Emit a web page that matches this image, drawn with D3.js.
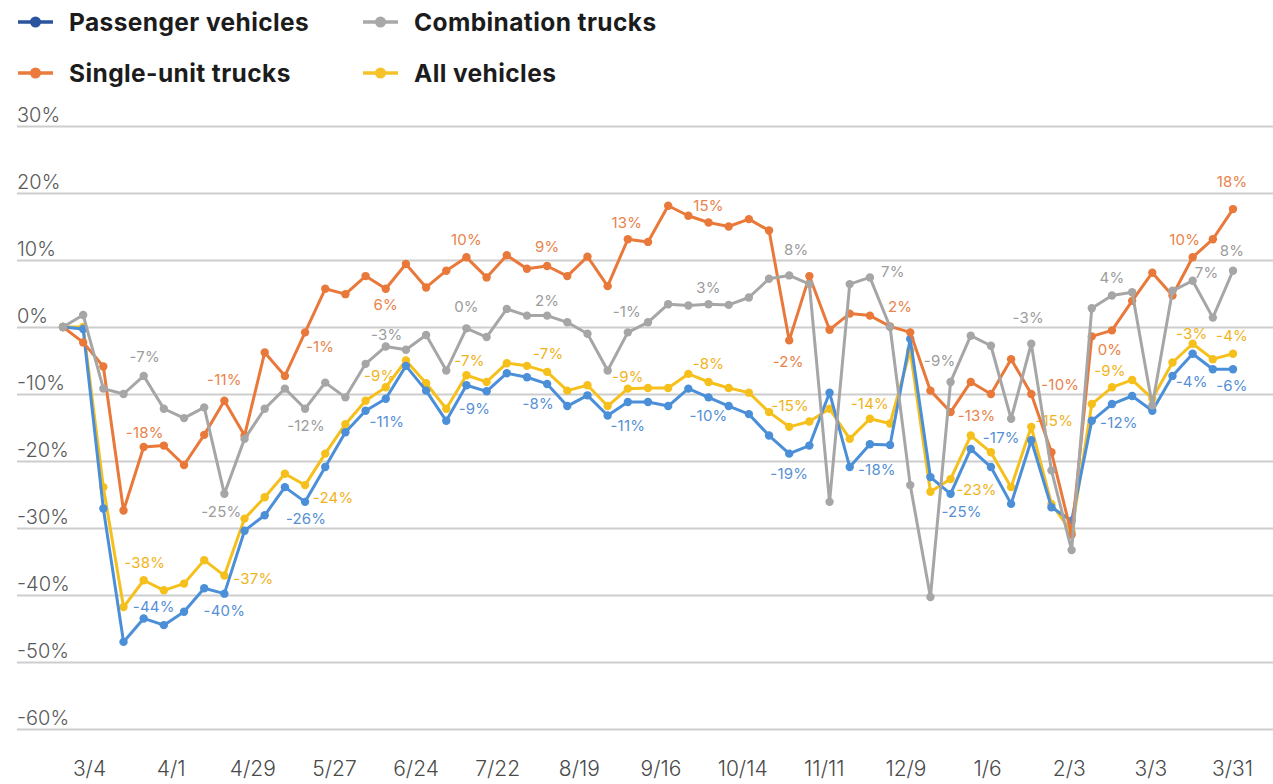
<!DOCTYPE html>
<html>
<head>
<meta charset="utf-8">
<script src="https://cdn.jsdelivr.net/npm/d3@7"></script>
<style>
  body { margin: 0; background: #fff; }
  svg text { font-family: Inter, "DejaVu Sans", sans-serif; }
</style>
</head>
<body>
<svg id="chart" width="1273" height="784"></svg>
<script>
// weekly change in traffic vs. baseline, %
const tickLabels = ["3/4", "4/1", "4/29", "5/27", "6/24", "7/22", "8/19", "9/16",
  "10/14", "11/11", "12/9", "1/6", "2/3", "3/3", "3/31"];
const yTicks = [30, 20, 10, 0, -10, -20, -30, -40, -50, -60];

const passenger = [0, -0.3, -27.1, -47.0, -43.5, -44.5, -42.5, -39.0, -39.8, -30.4,
  -28.1, -23.9, -26.1, -20.9, -15.7, -12.5, -10.7, -5.8, -9.5, -14.0,
  -8.7, -9.6, -6.9, -7.5, -8.5, -11.8, -10.2, -13.2, -11.2, -11.2,
  -11.8, -9.2, -10.5, -11.8, -13.0, -16.2, -18.9, -17.7, -9.8, -20.9,
  -17.5, -17.6, -1.8, -22.4, -24.9, -18.2, -20.9, -26.4, -16.9, -26.9,
  -28.9, -14.0, -11.5, -10.3, -12.5, -7.3, -4.0, -6.3, -6.3];

const singleUnit = [0, -2.3, -5.9, -27.4, -17.9, -17.7, -20.6, -16.1, -11.0, -16.2,
  -3.8, -7.3, -0.8, 5.7, 4.9, 7.6, 5.7, 9.4, 5.9, 8.4,
  10.4, 7.4, 10.7, 8.7, 9.1, 7.6, 10.5, 6.1, 13.1, 12.7,
  18.1, 16.6, 15.6, 15.0, 16.1, 14.4, -2.0, 7.6, -0.4, 2.0,
  1.7, 0.1, -0.8, -9.5, -12.7, -8.2, -10.0, -4.8, -10.0, -18.7,
  -31.0, -1.4, -0.5, 3.9, 8.1, 4.7, 10.4, 13.1, 17.6];

const combination = [0, 1.8, -9.2, -10.0, -7.3, -12.2, -13.6, -12.0, -24.9, -16.7,
  -12.2, -9.2, -12.2, -8.3, -10.5, -5.5, -2.9, -3.4, -1.2, -6.5,
  -0.2, -1.5, 2.7, 1.7, 1.7, 0.7, -1.0, -6.5, -0.8, 0.7,
  3.4, 3.2, 3.4, 3.3, 4.4, 7.2, 7.7, 6.4, -26.1, 6.4,
  7.4, 0.0, -23.6, -40.3, -8.2, -1.3, -2.8, -13.7, -2.5, -21.4,
  -33.3, 2.8, 4.7, 5.2, -11.7, 5.4, 6.9, 1.4, 8.4];

const allVehicles = [0, 0, -23.9, -41.8, -37.8, -39.3, -38.3, -34.8, -37.1, -28.6,
  -25.4, -21.9, -23.6, -18.9, -14.5, -11.0, -9.0, -5.0, -8.4, -12.2,
  -7.2, -8.2, -5.4, -5.8, -6.7, -9.5, -8.7, -11.8, -9.2, -9.1,
  -9.1, -7.0, -8.2, -9.1, -9.8, -12.7, -14.9, -14.1, -12.2, -16.7,
  -13.7, -14.4, -3.5, -24.6, -22.7, -16.2, -18.7, -23.9, -14.9, -26.4,
  -30.6, -11.5, -9.0, -7.9, -10.7, -5.3, -2.5, -4.8, -4.0];

// value callouts: [point index, text]
const passengerNotes = [[4, "-44%"], [8, "-40%"], [12, "-26%"], [16, "-11%"], [20, "-9%"],
  [24, "-8%"], [28, "-11%"], [32, "-10%"], [36, "-19%"], [40, "-18%"], [44, "-25%"],
  [48, "-17%"], [52, "-12%"], [56, "-4%"], [58, "-6%"]];
const singleUnitNotes = [[4, "-18%"], [8, "-11%"], [12, "-1%"], [16, "6%"], [20, "10%"],
  [24, "9%"], [28, "13%"], [32, "15%"], [36, "-2%"], [41, "2%"], [44, "-13%"],
  [48, "-10%"], [52, "0%"], [56, "10%"], [58, "18%"]];
const combinationNotes = [[4, "-7%"], [8, "-25%"], [12, "-12%"], [16, "-3%"], [20, "0%"],
  [24, "2%"], [28, "-1%"], [32, "3%"], [36, "8%"], [40, "7%"], [44, "-9%"],
  [48, "-3%"], [52, "4%"], [56, "7%"], [58, "8%"]];
const allVehiclesNotes = [[4, "-38%"], [8, "-37%"], [12, "-24%"], [16, "-9%"], [20, "-7%"],
  [24, "-7%"], [28, "-9%"], [32, "-8%"], [36, "-15%"], [40, "-14%"], [44, "-23%"],
  [48, "-15%"], [52, "-9%"], [56, "-3%"], [58, "-4%"]];

// label nudges (dx, dy from the point), by series then index
const nudges = {
  passenger: {4: [10, -12], 8: [0, 17], 12: [1, 17], 16: [1, 23], 20: [8, 23], 24: [-9, 20],
    28: [0, 23], 32: [0, 18], 36: [0, 20], 40: [7, 25], 44: [11, 18], 48: [-30, -3],
    52: [7, 18], 56: [-1, 28], 58: [-1, 16]},
  singleUnit: {4: [1, -14], 8: [0, -21], 12: [15, 14], 16: [0, 16], 20: [0, -18], 24: [0, -20],
    28: [-1, -17], 32: [0, -17], 36: [-1, 21], 41: [10, -20], 44: [26, 3], 48: [29, -10],
    52: [-2, 19], 56: [-8, -18], 58: [-1, -28]},
  combination: {4: [1, -19], 8: [-3, 18], 12: [1, 17], 16: [1, -12], 20: [0, -22], 24: [0, -15],
    28: [-1, -21], 32: [0, -17], 36: [7, -26], 40: [23, -6], 44: [-11, -21], 48: [-3, -26],
    52: [0, -18], 56: [14, -8], 58: [-1, -20]},
  allVehicles: {4: [1, -18], 8: [29, 3], 12: [28, 12], 16: [-6, -12], 20: [3, -15], 24: [1, -18],
    28: [0, -12], 32: [0, -18], 36: [1, -21], 40: [0, -15], 44: [26, 10], 48: [23, -6],
    52: [-2, -17], 56: [-1, -10], 58: [-1, -18]}
};

const series = [
  {key: "allVehicles", name: "All vehicles", values: allVehicles, notes: allVehiclesNotes,
    color: "#f6c01c", labelColor: "#f0b31a", legendColor: "#f6c22a"},
  {key: "passenger", name: "Passenger vehicles", values: passenger, notes: passengerNotes,
    color: "#4a8fd8", labelColor: "#5690d4", legendColor: "#2a549e"},
  {key: "singleUnit", name: "Single-unit trucks", values: singleUnit, notes: singleUnitNotes,
    color: "#e9793a", labelColor: "#e9834a", legendColor: "#ea7b3c"},
  {key: "combination", name: "Combination trucks", values: combination, notes: combinationNotes,
    color: "#a6a6a6", labelColor: "#9c9c9c", legendColor: "#a8a8a8"}
];

const width = 1273, height = 784;
const svg = d3.select("#chart");

const x = d3.scaleLinear().domain([0, passenger.length - 1]).range([63, 1233]);
const y = d3.scaleLinear().domain([-60, 30]).range([729, 126]);
const xCat = d3.scalePoint().domain(tickLabels).range([89, 1232]);

// horizontal grid + y labels
svg.append("g")
  .attr("transform", "translate(17,0)")
  .call(d3.axisLeft(y).tickValues(yTicks).tickSize(-(width - 17)).tickFormat(d => d + "%"))
  .call(g => g.select(".domain").remove())
  .call(g => g.selectAll(".tick line").attr("stroke", "#cdcdcd").attr("stroke-width", 2))
  .call(g => g.selectAll(".tick text")
    .attr("x", 0).attr("dy", -5)
    .attr("text-anchor", "start")
    .attr("fill", "#5a5a5a")
    .style("font-size", "20px").style("font-weight", 300)
    .style("font-family", "Inter, sans-serif"));

// x labels
svg.append("g")
  .attr("transform", "translate(0,761)")
  .call(d3.axisBottom(xCat).tickSize(0).tickPadding(0))
  .call(g => g.select(".domain").remove())
  .call(g => g.selectAll(".tick text")
    .attr("fill", "#4a4a4a")
    .style("font-size", "21px").style("font-weight", 300)
    .style("font-family", "Inter, sans-serif"));

// value callouts sit under the lines
const notes = svg.append("g");
series.forEach(s => {
  notes.selectAll(null)
    .data(s.notes)
    .join("text")
    .attr("x", d => x(d[0]) + nudges[s.key][d[0]][0])
    .attr("y", d => y(s.values[d[0]]) + nudges[s.key][d[0]][1])
    .attr("text-anchor", "middle")
    .attr("dominant-baseline", "central")
    .attr("fill", s.labelColor)
    .style("font-size", "15px")
    .style("font-weight", 400)
    .style("letter-spacing", "0.2px")
    .text(d => d[1]);
});

const line = d3.line().x((d, i) => x(i)).y(d => y(d));

series.forEach(s => {
  const g = svg.append("g");
  g.append("path")
    .datum(s.values)
    .attr("fill", "none")
    .attr("stroke", s.color)
    .attr("stroke-width", 3)
    .attr("stroke-linejoin", "round")
    .attr("d", line);
  g.selectAll("circle")
    .data(s.values)
    .join("circle")
    .attr("cx", (d, i) => x(i))
    .attr("cy", d => y(d))
    .attr("r", 4.2)
    .attr("fill", s.color);
});

// legend
const legendOrder = ["passenger", "combination", "singleUnit", "allVehicles"];
const legendCol = d3.scalePoint().domain([0, 1]).range([18, 363]);
const legendRow = d3.scalePoint().domain([0, 1]).range([22, 73]);
const legend = svg.append("g");
legendOrder.forEach((k, i) => {
  const s = series.find(d => d.key === k);
  const lx = legendCol(i % 2), ly = legendRow(Math.floor(i / 2));
  const item = legend.append("g").attr("transform", `translate(${lx},${ly})`);
  item.append("line").attr("x1", 0).attr("x2", 35).attr("y1", 0).attr("y2", 0)
    .attr("stroke", s.legendColor).attr("stroke-width", 3.5);
  item.append("circle").attr("cx", 17.5).attr("cy", 0).attr("r", 5.5).attr("fill", s.legendColor);
  item.append("text").attr("x", 51).attr("y", 0)
    .attr("dominant-baseline", "central")
    .attr("fill", "#1c1c1c")
    .style("font-size", "24.5px").style("font-weight", 700)
    .style("letter-spacing", "0.4px")
    .text(s.name);
});
</script>
</body>
</html>
